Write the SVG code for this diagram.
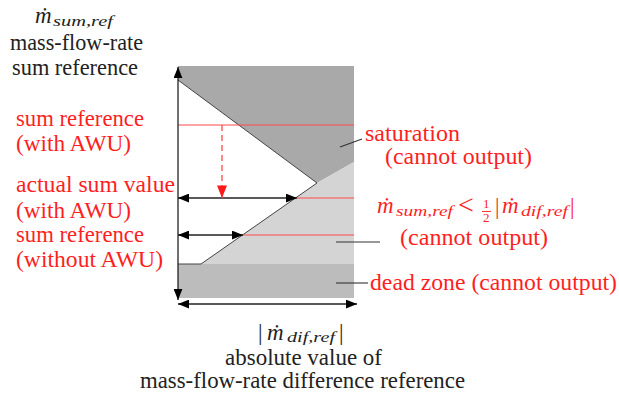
<svg xmlns="http://www.w3.org/2000/svg" width="619" height="396" viewBox="0 0 619 396" font-family="Liberation Serif, Times New Roman, serif">
<style>
.t{font-size:22.5px;fill:#222;font-family:"Liberation Serif",serif}
.r{font-size:22.5px;fill:#ff1f1f;font-family:"Liberation Serif",serif}
.mi{font-style:italic;font-size:23px}
.sb{font-style:italic;font-size:15.5px}
.fr{font-size:13px;font-style:normal}
.lt{font-size:28px}
.bd{stroke:#444;stroke-width:1;fill:none}
.ld{stroke:#333;stroke-width:1.1;fill:none}
.rl{stroke:#ff4a4a;stroke-width:1.1;fill:none}
.ax{stroke:#222;stroke-width:1.3;fill:none}
</style>
<defs>
<marker id="ah" viewBox="0 0 10 8" refX="10" refY="4" markerWidth="11" markerHeight="9" markerUnits="userSpaceOnUse" orient="auto-start-reverse">
<path d="M0,0 L10,4 L0,8 Z" fill="#000"/>
</marker>
<marker id="rh" viewBox="0 0 10 8" refX="10" refY="4" markerWidth="13" markerHeight="10" markerUnits="userSpaceOnUse" orient="auto">
<path d="M0,0 L10,4 L0,8 Z" fill="#ff1a1a"/>
</marker>
</defs>

<g id="regions">
<polygon id="saturation-region" points="178,66 354,66 354,162 317,183 178,80" fill="#a9a9a9"/>
<polygon id="cannot-region" points="201,264 317,183 354,162 354,264" fill="#d4d4d4"/>
<rect id="dead-zone" x="178" y="264" width="176" height="34" fill="#bcbcbc"/>
<polyline class="bd" points="178,80 317,183 201,264 178,264"/>
</g>

<g id="ref-lines">
<line class="rl" x1="178" y1="125" x2="354" y2="125"/>
<line class="rl" x1="297" y1="198" x2="354" y2="198"/>
<line class="rl" x1="243" y1="235" x2="354" y2="235"/>
</g>

<g id="connectors">
<line class="ax" x1="178" y1="300" x2="178" y2="67" marker-start="url(#ah)" marker-end="url(#ah)"/>
<line class="ax" x1="178" y1="304" x2="357" y2="304" marker-start="url(#ah)" marker-end="url(#ah)"/>
<line class="ax" x1="178" y1="198" x2="297" y2="198" marker-start="url(#ah)" marker-end="url(#ah)"/>
<line class="ax" x1="178" y1="235" x2="243" y2="235" marker-start="url(#ah)" marker-end="url(#ah)"/>
<line x1="222" y1="125" x2="222" y2="198" stroke="#ff4a4a" stroke-width="1.3" stroke-dasharray="6,4" marker-end="url(#rh)"/>
<line class="ld" x1="340" y1="147" x2="362" y2="139"/>
<line class="ld" x1="336" y1="242" x2="380" y2="242"/>
<line class="ld" x1="336" y1="283" x2="368" y2="283"/>
</g>

<g id="y-axis-label">
<text class="t" x="35" y="23"><tspan class="mi">ṁ</tspan><tspan class="sb" x="53" y="26" textLength="60" lengthAdjust="spacingAndGlyphs">sum,ref</tspan></text>
<text class="t" x="10" y="50" textLength="133" lengthAdjust="spacingAndGlyphs">mass-flow-rate</text>
<text class="t" x="12" y="75" textLength="126" lengthAdjust="spacingAndGlyphs">sum reference</text>
</g>

<g id="label-sum-ref-awu">
<text class="r" x="16" y="126" textLength="128" lengthAdjust="spacingAndGlyphs">sum reference</text>
<text class="r" x="16" y="151" textLength="115" lengthAdjust="spacingAndGlyphs">(with AWU)</text>
</g>

<g id="label-actual-sum">
<text class="r" x="16" y="192" textLength="159" lengthAdjust="spacingAndGlyphs">actual sum value</text>
<text class="r" x="16" y="218" textLength="115" lengthAdjust="spacingAndGlyphs">(with AWU)</text>
</g>

<g id="label-sum-ref-noawu">
<text class="r" x="16" y="242" textLength="128" lengthAdjust="spacingAndGlyphs">sum reference</text>
<text class="r" x="16" y="267" textLength="147" lengthAdjust="spacingAndGlyphs">(without AWU)</text>
</g>

<g id="label-saturation">
<text class="r" x="365" y="141" textLength="95" lengthAdjust="spacingAndGlyphs">saturation</text>
<text class="r" x="385" y="164" textLength="147" lengthAdjust="spacingAndGlyphs">(cannot output)</text>
</g>

<g id="label-cannot">
<text class="r" x="377" y="213"><tspan class="mi">ṁ</tspan><tspan class="sb" x="396" y="216" textLength="57" lengthAdjust="spacingAndGlyphs">sum,ref</tspan><tspan class="lt" x="458" y="214">&lt;</tspan><tspan class="fr" x="483" y="208">1</tspan><tspan class="fr" x="483" y="222">2</tspan><tspan x="495" y="214">|</tspan><tspan class="mi" x="502" y="213">ṁ</tspan><tspan class="sb" x="521" y="216" textLength="47" lengthAdjust="spacingAndGlyphs">dif,ref</tspan><tspan x="570" y="214">|</tspan></text>
<line x1="482" y1="211.5" x2="491" y2="211.5" stroke="#ff1f1f" stroke-width="0.9"/>
<text class="r" x="400" y="245" textLength="148" lengthAdjust="spacingAndGlyphs">(cannot output)</text>
</g>

<g id="label-dead-zone">
<text class="r" x="370" y="290" textLength="247" lengthAdjust="spacingAndGlyphs">dead zone (cannot output)</text>
</g>

<g id="x-axis-label">
<text class="t" x="258" y="340" font-size="21">|</text>
<text class="t" x="267" y="340"><tspan class="mi">ṁ</tspan><tspan class="sb" x="287" y="342" textLength="48" lengthAdjust="spacingAndGlyphs">dif,ref</tspan></text>
<text class="t" x="339" y="340" font-size="21">|</text>
<text class="t" x="225" y="365" textLength="157" lengthAdjust="spacingAndGlyphs">absolute value of</text>
<text class="t" x="140" y="388" textLength="325" lengthAdjust="spacingAndGlyphs">mass-flow-rate difference reference</text>
</g>
</svg>
